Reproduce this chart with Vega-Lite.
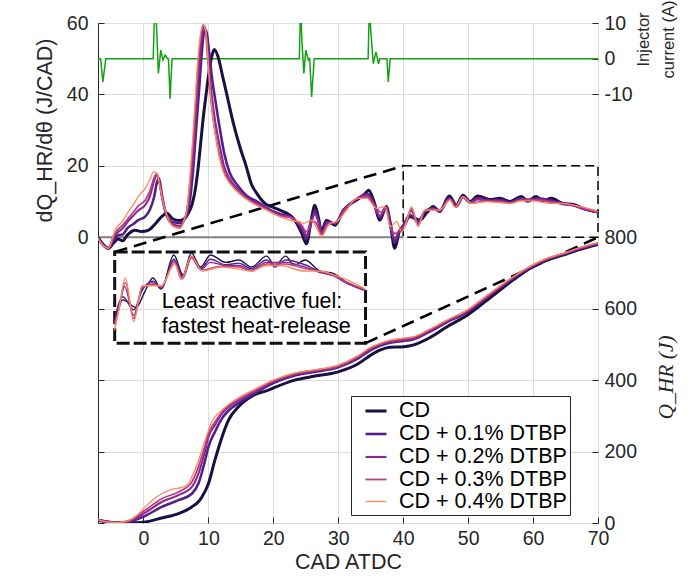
{
"$schema":"https://vega.github.io/schema/vega-lite/v6.json",
"width":500,"height":500,
"autosize":{"type":"none"},
"padding":{"left":98,"top":23,"right":95,"bottom":58},
"background":"white",
"config":{
 "font":"Liberation Sans",
 "view":{"stroke":"#262626","strokeWidth":1},
 "axis":{"domainColor":"#262626","tickColor":"#262626","labelColor":"#262626","titleColor":"#262626","labelFontSize":19.5,"titleFontSize":21.5,"titleFontWeight":"normal","gridColor":"#dcdcdc","gridWidth":1,"labelFont":"Liberation Sans","titleFont":"Liberation Sans"}
},
"datasets":{
"dq":[
{"s":"CD","cad":-7,"dq":0},{"s":"CD","cad":-6.2,"dq":-2.0},{"s":"CD","cad":-5.4,"dq":-3.1},{"s":"CD","cad":-4.6,"dq":-1.6},{"s":"CD","cad":-3.9,"dq":-0.5},{"s":"CD","cad":-3.2,"dq":-1.0},{"s":"CD","cad":-2.5,"dq":0.6},{"s":"CD","cad":-1.3,"dq":2.0},{"s":"CD","cad":-0.3,"dq":1.6},{"s":"CD","cad":0.8,"dq":2.0},{"s":"CD","cad":1.8,"dq":3.7},{"s":"CD","cad":2.8,"dq":5.8},{"s":"CD","cad":3.6,"dq":6.7},{"s":"CD","cad":4.5,"dq":5.2},{"s":"CD","cad":5.5,"dq":4.7},{"s":"CD","cad":6.3,"dq":5.2},{"s":"CD","cad":6.9,"dq":6.7},{"s":"CD","cad":7.5,"dq":9.3},{"s":"CD","cad":7.95,"dq":13},{"s":"CD","cad":8.46,"dq":20},{"s":"CD","cad":8.9,"dq":28},{"s":"CD","cad":9.3,"dq":35},{"s":"CD","cad":9.65,"dq":40},{"s":"CD","cad":10.0,"dq":45},{"s":"CD","cad":10.5,"dq":50.5},{"s":"CD","cad":10.9,"dq":52.6},{"s":"CD","cad":11.5,"dq":50.5},{"s":"CD","cad":12.2,"dq":45},{"s":"CD","cad":12.8,"dq":40.3},{"s":"CD","cad":13.85,"dq":31.9},{"s":"CD","cad":14.9,"dq":25},{"s":"CD","cad":15.8,"dq":20},{"s":"CD","cad":16.6,"dq":15},{"s":"CD","cad":17.45,"dq":12.3},{"s":"CD","cad":18.7,"dq":9.5},{"s":"CD","cad":20.0,"dq":8.4},{"s":"CD","cad":21.0,"dq":7.6},{"s":"CD","cad":22.1,"dq":6.7},{"s":"CD","cad":23.0,"dq":5.5},{"s":"CD","cad":23.6,"dq":3.9},{"s":"CD","cad":24.4,"dq":1.0},{"s":"CD","cad":25.1,"dq":-1.8},{"s":"CD","cad":25.8,"dq":4.5},{"s":"CD","cad":26.4,"dq":9.0},{"s":"CD","cad":27.0,"dq":5.0},{"s":"CD","cad":27.4,"dq":1.6},{"s":"CD","cad":28.2,"dq":4.8},{"s":"CD","cad":29.5,"dq":3.4},{"s":"CD","cad":30.8,"dq":7.6},{"s":"CD","cad":32.0,"dq":9.5},{"s":"CD","cad":32.8,"dq":10.4},{"s":"CD","cad":34.0,"dq":12.0},{"s":"CD","cad":34.7,"dq":13.2},{"s":"CD","cad":35.5,"dq":10.0},{"s":"CD","cad":36.4,"dq":4.8},{"s":"CD","cad":37.4,"dq":8.6},{"s":"CD","cad":38.0,"dq":4.0},{"s":"CD","cad":38.7,"dq":-3.1},{"s":"CD","cad":39.4,"dq":1.6},{"s":"CD","cad":40.0,"dq":2.8},{"s":"CD","cad":41.0,"dq":5.8},{"s":"CD","cad":42.6,"dq":4.8},{"s":"CD","cad":43.6,"dq":6.8},{"s":"CD","cad":44.6,"dq":8.6},{"s":"CD","cad":45.6,"dq":7.2},{"s":"CD","cad":47.1,"dq":11.55},{"s":"CD","cad":48.2,"dq":9.0},{"s":"CD","cad":49.2,"dq":11.8},{"s":"CD","cad":50.3,"dq":10.0},{"s":"CD","cad":51.5,"dq":11.55},{"s":"CD","cad":53.3,"dq":10.6},{"s":"CD","cad":54.9,"dq":10.9},{"s":"CD","cad":56.4,"dq":10.0},{"s":"CD","cad":58.2,"dq":11.4},{"s":"CD","cad":59.2,"dq":10.2},{"s":"CD","cad":60.5,"dq":11.4},{"s":"CD","cad":61.5,"dq":10.2},{"s":"CD","cad":62.8,"dq":10.9},{"s":"CD","cad":64.6,"dq":9.5},{"s":"CD","cad":66.2,"dq":9.2},{"s":"CD","cad":67.7,"dq":8.1},{"s":"CD","cad":70,"dq":7.1},
{"s":"CD + 0.1% DTBP","cad":-7,"dq":-0.1},{"s":"CD + 0.1% DTBP","cad":-6.2,"dq":-2.2},{"s":"CD + 0.1% DTBP","cad":-5.4,"dq":-3.1},{"s":"CD + 0.1% DTBP","cad":-4.6,"dq":-0.8},{"s":"CD + 0.1% DTBP","cad":-3.9,"dq":0.6},{"s":"CD + 0.1% DTBP","cad":-3.2,"dq":0.8},{"s":"CD + 0.1% DTBP","cad":-2.5,"dq":2.5},{"s":"CD + 0.1% DTBP","cad":-1.5,"dq":3.8},{"s":"CD + 0.1% DTBP","cad":-0.8,"dq":4.8},{"s":"CD + 0.1% DTBP","cad":0.26,"dq":5.8},{"s":"CD + 0.1% DTBP","cad":1.0,"dq":7.8},{"s":"CD + 0.1% DTBP","cad":1.6,"dq":11},{"s":"CD + 0.1% DTBP","cad":2.1,"dq":15.5},{"s":"CD + 0.1% DTBP","cad":2.4,"dq":16.5},{"s":"CD + 0.1% DTBP","cad":2.83,"dq":12},{"s":"CD + 0.1% DTBP","cad":3.6,"dq":6.0},{"s":"CD + 0.1% DTBP","cad":4.6,"dq":4.2},{"s":"CD + 0.1% DTBP","cad":5.65,"dq":4.0},{"s":"CD + 0.1% DTBP","cad":6.2,"dq":4.8},{"s":"CD + 0.1% DTBP","cad":6.7,"dq":6.5},{"s":"CD + 0.1% DTBP","cad":7.2,"dq":11},{"s":"CD + 0.1% DTBP","cad":7.7,"dq":20},{"s":"CD + 0.1% DTBP","cad":8.1,"dq":30},{"s":"CD + 0.1% DTBP","cad":8.6,"dq":42},{"s":"CD + 0.1% DTBP","cad":9.0,"dq":52},{"s":"CD + 0.1% DTBP","cad":9.4,"dq":58},{"s":"CD + 0.1% DTBP","cad":9.7,"dq":57.5},{"s":"CD + 0.1% DTBP","cad":10.1,"dq":52},{"s":"CD + 0.1% DTBP","cad":10.6,"dq":44},{"s":"CD + 0.1% DTBP","cad":11.1,"dq":38},{"s":"CD + 0.1% DTBP","cad":11.8,"dq":30},{"s":"CD + 0.1% DTBP","cad":12.5,"dq":23},{"s":"CD + 0.1% DTBP","cad":13.3,"dq":18},{"s":"CD + 0.1% DTBP","cad":14.5,"dq":14.5},{"s":"CD + 0.1% DTBP","cad":16.0,"dq":11.5},{"s":"CD + 0.1% DTBP","cad":17.5,"dq":10.0},{"s":"CD + 0.1% DTBP","cad":19.0,"dq":8.2},{"s":"CD + 0.1% DTBP","cad":21.0,"dq":6.5},{"s":"CD + 0.1% DTBP","cad":22.6,"dq":5.8},{"s":"CD + 0.1% DTBP","cad":23.6,"dq":4.2},{"s":"CD + 0.1% DTBP","cad":24.4,"dq":2.0},{"s":"CD + 0.1% DTBP","cad":25.1,"dq":-0.5},{"s":"CD + 0.1% DTBP","cad":25.8,"dq":4.0},{"s":"CD + 0.1% DTBP","cad":26.4,"dq":7.5},{"s":"CD + 0.1% DTBP","cad":27.0,"dq":4.5},{"s":"CD + 0.1% DTBP","cad":27.5,"dq":1.5},{"s":"CD + 0.1% DTBP","cad":28.3,"dq":4.5},{"s":"CD + 0.1% DTBP","cad":29.5,"dq":3.8},{"s":"CD + 0.1% DTBP","cad":30.8,"dq":7.4},{"s":"CD + 0.1% DTBP","cad":32.8,"dq":10.6},{"s":"CD + 0.1% DTBP","cad":34.5,"dq":12.2},{"s":"CD + 0.1% DTBP","cad":35.5,"dq":9.5},{"s":"CD + 0.1% DTBP","cad":36.4,"dq":5.5},{"s":"CD + 0.1% DTBP","cad":37.4,"dq":8.4},{"s":"CD + 0.1% DTBP","cad":38.0,"dq":4.0},{"s":"CD + 0.1% DTBP","cad":38.7,"dq":-1.5},{"s":"CD + 0.1% DTBP","cad":39.4,"dq":1.8},{"s":"CD + 0.1% DTBP","cad":40.0,"dq":3.3},{"s":"CD + 0.1% DTBP","cad":41.0,"dq":6.2},{"s":"CD + 0.1% DTBP","cad":42.3,"dq":4.5},{"s":"CD + 0.1% DTBP","cad":43.3,"dq":7.0},{"s":"CD + 0.1% DTBP","cad":44.6,"dq":8.2},{"s":"CD + 0.1% DTBP","cad":45.6,"dq":7.2},{"s":"CD + 0.1% DTBP","cad":47.1,"dq":11.0},{"s":"CD + 0.1% DTBP","cad":48.2,"dq":8.8},{"s":"CD + 0.1% DTBP","cad":49.2,"dq":11.4},{"s":"CD + 0.1% DTBP","cad":50.3,"dq":9.8},{"s":"CD + 0.1% DTBP","cad":51.5,"dq":11.0},{"s":"CD + 0.1% DTBP","cad":53.3,"dq":10.3},{"s":"CD + 0.1% DTBP","cad":54.9,"dq":10.5},{"s":"CD + 0.1% DTBP","cad":56.4,"dq":9.8},{"s":"CD + 0.1% DTBP","cad":58.2,"dq":10.9},{"s":"CD + 0.1% DTBP","cad":59.2,"dq":10.0},{"s":"CD + 0.1% DTBP","cad":60.5,"dq":10.9},{"s":"CD + 0.1% DTBP","cad":62.8,"dq":10.3},{"s":"CD + 0.1% DTBP","cad":64.6,"dq":9.4},{"s":"CD + 0.1% DTBP","cad":66.2,"dq":9.0},{"s":"CD + 0.1% DTBP","cad":67.7,"dq":8.0},{"s":"CD + 0.1% DTBP","cad":70,"dq":7.0},
{"s":"CD + 0.2% DTBP","cad":-7,"dq":-0.2},{"s":"CD + 0.2% DTBP","cad":-6.2,"dq":-2.3},{"s":"CD + 0.2% DTBP","cad":-5.4,"dq":-3.1},{"s":"CD + 0.2% DTBP","cad":-4.6,"dq":0},{"s":"CD + 0.2% DTBP","cad":-3.9,"dq":1.5},{"s":"CD + 0.2% DTBP","cad":-3.2,"dq":2.5},{"s":"CD + 0.2% DTBP","cad":-2.5,"dq":4.2},{"s":"CD + 0.2% DTBP","cad":-1.5,"dq":6.2},{"s":"CD + 0.2% DTBP","cad":-0.8,"dq":7.5},{"s":"CD + 0.2% DTBP","cad":0.26,"dq":9.0},{"s":"CD + 0.2% DTBP","cad":1.0,"dq":11.5},{"s":"CD + 0.2% DTBP","cad":1.6,"dq":15.5},{"s":"CD + 0.2% DTBP","cad":2.1,"dq":17.5},{"s":"CD + 0.2% DTBP","cad":2.5,"dq":15},{"s":"CD + 0.2% DTBP","cad":2.83,"dq":11.4},{"s":"CD + 0.2% DTBP","cad":3.6,"dq":6.0},{"s":"CD + 0.2% DTBP","cad":4.6,"dq":3.6},{"s":"CD + 0.2% DTBP","cad":5.65,"dq":3.2},{"s":"CD + 0.2% DTBP","cad":6.2,"dq":4.5},{"s":"CD + 0.2% DTBP","cad":6.7,"dq":7.2},{"s":"CD + 0.2% DTBP","cad":7.2,"dq":14},{"s":"CD + 0.2% DTBP","cad":7.6,"dq":22},{"s":"CD + 0.2% DTBP","cad":8.0,"dq":33},{"s":"CD + 0.2% DTBP","cad":8.5,"dq":46},{"s":"CD + 0.2% DTBP","cad":8.9,"dq":55},{"s":"CD + 0.2% DTBP","cad":9.3,"dq":59},{"s":"CD + 0.2% DTBP","cad":9.6,"dq":58},{"s":"CD + 0.2% DTBP","cad":10.0,"dq":50},{"s":"CD + 0.2% DTBP","cad":10.5,"dq":40},{"s":"CD + 0.2% DTBP","cad":11.0,"dq":33},{"s":"CD + 0.2% DTBP","cad":11.7,"dq":26},{"s":"CD + 0.2% DTBP","cad":12.4,"dq":20},{"s":"CD + 0.2% DTBP","cad":13.2,"dq":16.5},{"s":"CD + 0.2% DTBP","cad":14.5,"dq":13.5},{"s":"CD + 0.2% DTBP","cad":16.0,"dq":11},{"s":"CD + 0.2% DTBP","cad":17.5,"dq":9.5},{"s":"CD + 0.2% DTBP","cad":19.0,"dq":8.0},{"s":"CD + 0.2% DTBP","cad":21.0,"dq":6.2},{"s":"CD + 0.2% DTBP","cad":22.6,"dq":5.6},{"s":"CD + 0.2% DTBP","cad":23.6,"dq":4.3},{"s":"CD + 0.2% DTBP","cad":24.4,"dq":3.0},{"s":"CD + 0.2% DTBP","cad":25.1,"dq":0.5},{"s":"CD + 0.2% DTBP","cad":25.8,"dq":4.2},{"s":"CD + 0.2% DTBP","cad":26.4,"dq":6.5},{"s":"CD + 0.2% DTBP","cad":27.0,"dq":4.0},{"s":"CD + 0.2% DTBP","cad":27.5,"dq":1.0},{"s":"CD + 0.2% DTBP","cad":28.3,"dq":4.0},{"s":"CD + 0.2% DTBP","cad":29.5,"dq":4.0},{"s":"CD + 0.2% DTBP","cad":30.8,"dq":7.5},{"s":"CD + 0.2% DTBP","cad":32.8,"dq":10.7},{"s":"CD + 0.2% DTBP","cad":34.5,"dq":11.8},{"s":"CD + 0.2% DTBP","cad":35.5,"dq":9.0},{"s":"CD + 0.2% DTBP","cad":36.4,"dq":6.0},{"s":"CD + 0.2% DTBP","cad":37.4,"dq":8.5},{"s":"CD + 0.2% DTBP","cad":38.0,"dq":3.5},{"s":"CD + 0.2% DTBP","cad":38.7,"dq":-0.5},{"s":"CD + 0.2% DTBP","cad":39.4,"dq":1.8},{"s":"CD + 0.2% DTBP","cad":40.0,"dq":2.8},{"s":"CD + 0.2% DTBP","cad":40.5,"dq":4.5},{"s":"CD + 0.2% DTBP","cad":41.2,"dq":7.5},{"s":"CD + 0.2% DTBP","cad":42.3,"dq":3.8},{"s":"CD + 0.2% DTBP","cad":43.3,"dq":7.3},{"s":"CD + 0.2% DTBP","cad":44.6,"dq":8.0},{"s":"CD + 0.2% DTBP","cad":45.6,"dq":7.4},{"s":"CD + 0.2% DTBP","cad":47.1,"dq":10.8},{"s":"CD + 0.2% DTBP","cad":48.2,"dq":8.6},{"s":"CD + 0.2% DTBP","cad":49.2,"dq":11.2},{"s":"CD + 0.2% DTBP","cad":50.3,"dq":9.7},{"s":"CD + 0.2% DTBP","cad":51.5,"dq":10.6},{"s":"CD + 0.2% DTBP","cad":53.3,"dq":10.2},{"s":"CD + 0.2% DTBP","cad":54.9,"dq":10.2},{"s":"CD + 0.2% DTBP","cad":56.4,"dq":9.6},{"s":"CD + 0.2% DTBP","cad":58.2,"dq":10.6},{"s":"CD + 0.2% DTBP","cad":60.5,"dq":10.6},{"s":"CD + 0.2% DTBP","cad":62.8,"dq":10.0},{"s":"CD + 0.2% DTBP","cad":64.6,"dq":9.3},{"s":"CD + 0.2% DTBP","cad":66.2,"dq":8.9},{"s":"CD + 0.2% DTBP","cad":67.7,"dq":8.0},{"s":"CD + 0.2% DTBP","cad":70,"dq":7.0},
{"s":"CD + 0.3% DTBP","cad":-7,"dq":-0.2},{"s":"CD + 0.3% DTBP","cad":-6.2,"dq":-2.3},{"s":"CD + 0.3% DTBP","cad":-5.4,"dq":-3.1},{"s":"CD + 0.3% DTBP","cad":-4.6,"dq":0.5},{"s":"CD + 0.3% DTBP","cad":-3.9,"dq":2.2},{"s":"CD + 0.3% DTBP","cad":-3.2,"dq":3.4},{"s":"CD + 0.3% DTBP","cad":-2.5,"dq":5.0},{"s":"CD + 0.3% DTBP","cad":-1.5,"dq":7.2},{"s":"CD + 0.3% DTBP","cad":-0.8,"dq":8.8},{"s":"CD + 0.3% DTBP","cad":0.26,"dq":10.4},{"s":"CD + 0.3% DTBP","cad":1.0,"dq":13},{"s":"CD + 0.3% DTBP","cad":1.6,"dq":16.5},{"s":"CD + 0.3% DTBP","cad":2.06,"dq":17.8},{"s":"CD + 0.3% DTBP","cad":2.5,"dq":14.8},{"s":"CD + 0.3% DTBP","cad":2.83,"dq":11.4},{"s":"CD + 0.3% DTBP","cad":3.6,"dq":6.0},{"s":"CD + 0.3% DTBP","cad":4.6,"dq":3.3},{"s":"CD + 0.3% DTBP","cad":5.65,"dq":2.8},{"s":"CD + 0.3% DTBP","cad":6.2,"dq":4.5},{"s":"CD + 0.3% DTBP","cad":6.7,"dq":7.6},{"s":"CD + 0.3% DTBP","cad":7.2,"dq":16},{"s":"CD + 0.3% DTBP","cad":7.6,"dq":25},{"s":"CD + 0.3% DTBP","cad":8.0,"dq":36},{"s":"CD + 0.3% DTBP","cad":8.4,"dq":48},{"s":"CD + 0.3% DTBP","cad":8.8,"dq":56},{"s":"CD + 0.3% DTBP","cad":9.2,"dq":59.5},{"s":"CD + 0.3% DTBP","cad":9.5,"dq":58.5},{"s":"CD + 0.3% DTBP","cad":9.9,"dq":50},{"s":"CD + 0.3% DTBP","cad":10.3,"dq":40},{"s":"CD + 0.3% DTBP","cad":10.9,"dq":31},{"s":"CD + 0.3% DTBP","cad":11.6,"dq":24},{"s":"CD + 0.3% DTBP","cad":12.3,"dq":19},{"s":"CD + 0.3% DTBP","cad":13.2,"dq":15.8},{"s":"CD + 0.3% DTBP","cad":14.8,"dq":12.5},{"s":"CD + 0.3% DTBP","cad":16.5,"dq":10},{"s":"CD + 0.3% DTBP","cad":18.5,"dq":8.2},{"s":"CD + 0.3% DTBP","cad":21.0,"dq":6.0},{"s":"CD + 0.3% DTBP","cad":22.6,"dq":5.6},{"s":"CD + 0.3% DTBP","cad":23.6,"dq":4.5},{"s":"CD + 0.3% DTBP","cad":24.4,"dq":3.2},{"s":"CD + 0.3% DTBP","cad":25.1,"dq":1.5},{"s":"CD + 0.3% DTBP","cad":25.9,"dq":4.6},{"s":"CD + 0.3% DTBP","cad":26.6,"dq":4.0},{"s":"CD + 0.3% DTBP","cad":27.4,"dq":0.8},{"s":"CD + 0.3% DTBP","cad":28.3,"dq":3.5},{"s":"CD + 0.3% DTBP","cad":29.6,"dq":4.2},{"s":"CD + 0.3% DTBP","cad":31.0,"dq":7.6},{"s":"CD + 0.3% DTBP","cad":32.8,"dq":10.8},{"s":"CD + 0.3% DTBP","cad":34.4,"dq":11.3},{"s":"CD + 0.3% DTBP","cad":35.7,"dq":8.6},{"s":"CD + 0.3% DTBP","cad":36.6,"dq":7.0},{"s":"CD + 0.3% DTBP","cad":37.3,"dq":8.5},{"s":"CD + 0.3% DTBP","cad":38.0,"dq":3.2},{"s":"CD + 0.3% DTBP","cad":38.8,"dq":1.0},{"s":"CD + 0.3% DTBP","cad":39.5,"dq":2.0},{"s":"CD + 0.3% DTBP","cad":40.0,"dq":2.6},{"s":"CD + 0.3% DTBP","cad":40.5,"dq":4.5},{"s":"CD + 0.3% DTBP","cad":41.3,"dq":8.0},{"s":"CD + 0.3% DTBP","cad":42.3,"dq":3.4},{"s":"CD + 0.3% DTBP","cad":43.3,"dq":7.4},{"s":"CD + 0.3% DTBP","cad":44.6,"dq":7.8},{"s":"CD + 0.3% DTBP","cad":45.6,"dq":7.5},{"s":"CD + 0.3% DTBP","cad":47.2,"dq":10.6},{"s":"CD + 0.3% DTBP","cad":48.1,"dq":8.5},{"s":"CD + 0.3% DTBP","cad":49.2,"dq":11.3},{"s":"CD + 0.3% DTBP","cad":50.4,"dq":9.6},{"s":"CD + 0.3% DTBP","cad":52.8,"dq":10.1},{"s":"CD + 0.3% DTBP","cad":54.9,"dq":10.0},{"s":"CD + 0.3% DTBP","cad":56.4,"dq":9.5},{"s":"CD + 0.3% DTBP","cad":58.2,"dq":10.4},{"s":"CD + 0.3% DTBP","cad":60.5,"dq":10.4},{"s":"CD + 0.3% DTBP","cad":62.8,"dq":9.8},{"s":"CD + 0.3% DTBP","cad":64.6,"dq":9.4},{"s":"CD + 0.3% DTBP","cad":66.2,"dq":8.9},{"s":"CD + 0.3% DTBP","cad":67.7,"dq":8.1},{"s":"CD + 0.3% DTBP","cad":70,"dq":7.1},
{"s":"CD + 0.4% DTBP","cad":-7,"dq":-0.3},{"s":"CD + 0.4% DTBP","cad":-6.2,"dq":-2.3},{"s":"CD + 0.4% DTBP","cad":-5.4,"dq":-3.1},{"s":"CD + 0.4% DTBP","cad":-4.8,"dq":-0.5},{"s":"CD + 0.4% DTBP","cad":-4.35,"dq":2.0},{"s":"CD + 0.4% DTBP","cad":-3.3,"dq":4.4},{"s":"CD + 0.4% DTBP","cad":-2.3,"dq":7.2},{"s":"CD + 0.4% DTBP","cad":-1.5,"dq":9.3},{"s":"CD + 0.4% DTBP","cad":-0.8,"dq":11.4},{"s":"CD + 0.4% DTBP","cad":0.26,"dq":13.7},{"s":"CD + 0.4% DTBP","cad":1.0,"dq":16.2},{"s":"CD + 0.4% DTBP","cad":1.55,"dq":18.3},{"s":"CD + 0.4% DTBP","cad":2.06,"dq":17.9},{"s":"CD + 0.4% DTBP","cad":2.5,"dq":14.5},{"s":"CD + 0.4% DTBP","cad":2.83,"dq":11.4},{"s":"CD + 0.4% DTBP","cad":3.6,"dq":6.2},{"s":"CD + 0.4% DTBP","cad":4.6,"dq":3.0},{"s":"CD + 0.4% DTBP","cad":5.65,"dq":2.5},{"s":"CD + 0.4% DTBP","cad":6.2,"dq":4.5},{"s":"CD + 0.4% DTBP","cad":6.7,"dq":8.0},{"s":"CD + 0.4% DTBP","cad":7.2,"dq":18},{"s":"CD + 0.4% DTBP","cad":7.6,"dq":28},{"s":"CD + 0.4% DTBP","cad":7.95,"dq":38},{"s":"CD + 0.4% DTBP","cad":8.4,"dq":50},{"s":"CD + 0.4% DTBP","cad":8.8,"dq":57},{"s":"CD + 0.4% DTBP","cad":9.1,"dq":59.4},{"s":"CD + 0.4% DTBP","cad":9.4,"dq":59},{"s":"CD + 0.4% DTBP","cad":9.75,"dq":55},{"s":"CD + 0.4% DTBP","cad":10.1,"dq":45},{"s":"CD + 0.4% DTBP","cad":10.6,"dq":35},{"s":"CD + 0.4% DTBP","cad":11.3,"dq":26},{"s":"CD + 0.4% DTBP","cad":12.0,"dq":20},{"s":"CD + 0.4% DTBP","cad":12.6,"dq":17},{"s":"CD + 0.4% DTBP","cad":13.3,"dq":15},{"s":"CD + 0.4% DTBP","cad":14.9,"dq":12},{"s":"CD + 0.4% DTBP","cad":16.9,"dq":9.5},{"s":"CD + 0.4% DTBP","cad":19.0,"dq":7.6},{"s":"CD + 0.4% DTBP","cad":21.0,"dq":5.8},{"s":"CD + 0.4% DTBP","cad":23.1,"dq":4.6},{"s":"CD + 0.4% DTBP","cad":24.1,"dq":4.4},{"s":"CD + 0.4% DTBP","cad":24.6,"dq":3.9},{"s":"CD + 0.4% DTBP","cad":25.9,"dq":4.8},{"s":"CD + 0.4% DTBP","cad":26.7,"dq":2.5},{"s":"CD + 0.4% DTBP","cad":27.45,"dq":0.2},{"s":"CD + 0.4% DTBP","cad":28.2,"dq":2.5},{"s":"CD + 0.4% DTBP","cad":28.7,"dq":3.9},{"s":"CD + 0.4% DTBP","cad":29.75,"dq":4.4},{"s":"CD + 0.4% DTBP","cad":31.3,"dq":7.6},{"s":"CD + 0.4% DTBP","cad":32.8,"dq":10.9},{"s":"CD + 0.4% DTBP","cad":34.4,"dq":10.9},{"s":"CD + 0.4% DTBP","cad":35.9,"dq":8.1},{"s":"CD + 0.4% DTBP","cad":37.2,"dq":8.6},{"s":"CD + 0.4% DTBP","cad":38.0,"dq":3.0},{"s":"CD + 0.4% DTBP","cad":39.0,"dq":4.4},{"s":"CD + 0.4% DTBP","cad":39.75,"dq":1.6},{"s":"CD + 0.4% DTBP","cad":40.0,"dq":1.9},{"s":"CD + 0.4% DTBP","cad":40.5,"dq":4.5},{"s":"CD + 0.4% DTBP","cad":41.3,"dq":8.6},{"s":"CD + 0.4% DTBP","cad":42.3,"dq":3.0},{"s":"CD + 0.4% DTBP","cad":43.3,"dq":7.6},{"s":"CD + 0.4% DTBP","cad":45.6,"dq":7.6},{"s":"CD + 0.4% DTBP","cad":47.2,"dq":10.4},{"s":"CD + 0.4% DTBP","cad":48.0,"dq":8.4},{"s":"CD + 0.4% DTBP","cad":49.2,"dq":11.4},{"s":"CD + 0.4% DTBP","cad":50.5,"dq":9.5},{"s":"CD + 0.4% DTBP","cad":52.8,"dq":10.0},{"s":"CD + 0.4% DTBP","cad":54.5,"dq":9.8},{"s":"CD + 0.4% DTBP","cad":56.4,"dq":9.5},{"s":"CD + 0.4% DTBP","cad":58.2,"dq":10.2},{"s":"CD + 0.4% DTBP","cad":60.0,"dq":10.2},{"s":"CD + 0.4% DTBP","cad":62.6,"dq":9.5},{"s":"CD + 0.4% DTBP","cad":64.6,"dq":9.5},{"s":"CD + 0.4% DTBP","cad":66.2,"dq":9.0},{"s":"CD + 0.4% DTBP","cad":68,"dq":8.3},{"s":"CD + 0.4% DTBP","cad":70,"dq":7.2}
],
"q":[
{"s":"CD","cad":-7,"q":8},{"s":"CD","cad":-5.5,"q":3},{"s":"CD","cad":-4,"q":1},{"s":"CD","cad":-2,"q":0.5},{"s":"CD","cad":0.26,"q":3},{"s":"CD","cad":2.8,"q":14},{"s":"CD","cad":5.4,"q":26},{"s":"CD","cad":7.45,"q":45},{"s":"CD","cad":8.5,"q":60},{"s":"CD","cad":9.0,"q":73},{"s":"CD","cad":10.0,"q":110},{"s":"CD","cad":11.0,"q":176},{"s":"CD","cad":12.1,"q":241},{"s":"CD","cad":13.1,"q":288},{"s":"CD","cad":14.6,"q":325},{"s":"CD","cad":16.7,"q":355},{"s":"CD","cad":19.2,"q":372},{"s":"CD","cad":20,"q":378},{"s":"CD","cad":23.3,"q":400},{"s":"CD","cad":26,"q":410},{"s":"CD","cad":30,"q":423},{"s":"CD","cad":33,"q":445},{"s":"CD","cad":35,"q":470},{"s":"CD","cad":36.4,"q":484},{"s":"CD","cad":38,"q":492},{"s":"CD","cad":39.75,"q":493},{"s":"CD","cad":41.5,"q":498},{"s":"CD","cad":44,"q":518},{"s":"CD","cad":46.7,"q":549},{"s":"CD","cad":49.85,"q":582},{"s":"CD","cad":53,"q":625},{"s":"CD","cad":56.9,"q":680},{"s":"CD","cad":59.9,"q":717},{"s":"CD","cad":62,"q":735},{"s":"CD","cad":64.6,"q":750},{"s":"CD","cad":67,"q":765},{"s":"CD","cad":70,"q":780},
{"s":"CD + 0.1% DTBP","cad":-7,"q":8.5},{"s":"CD + 0.1% DTBP","cad":-5.5,"q":3},{"s":"CD + 0.1% DTBP","cad":-4,"q":1},{"s":"CD + 0.1% DTBP","cad":-2.3,"q":3},{"s":"CD + 0.1% DTBP","cad":0.26,"q":20},{"s":"CD + 0.1% DTBP","cad":2.8,"q":45},{"s":"CD + 0.1% DTBP","cad":5.4,"q":64},{"s":"CD + 0.1% DTBP","cad":7.45,"q":82},{"s":"CD + 0.1% DTBP","cad":8.5,"q":112},{"s":"CD + 0.1% DTBP","cad":9.5,"q":176},{"s":"CD + 0.1% DTBP","cad":10.0,"q":213},{"s":"CD + 0.1% DTBP","cad":11.0,"q":255},{"s":"CD + 0.1% DTBP","cad":12.1,"q":293},{"s":"CD + 0.1% DTBP","cad":13.1,"q":315},{"s":"CD + 0.1% DTBP","cad":14.6,"q":335},{"s":"CD + 0.1% DTBP","cad":17.2,"q":364},{"s":"CD + 0.1% DTBP","cad":20,"q":392},{"s":"CD + 0.1% DTBP","cad":23.3,"q":413},{"s":"CD + 0.1% DTBP","cad":26,"q":422},{"s":"CD + 0.1% DTBP","cad":30,"q":436},{"s":"CD + 0.1% DTBP","cad":33,"q":460},{"s":"CD + 0.1% DTBP","cad":35,"q":484},{"s":"CD + 0.1% DTBP","cad":36.4,"q":496},{"s":"CD + 0.1% DTBP","cad":38,"q":505},{"s":"CD + 0.1% DTBP","cad":39.75,"q":509},{"s":"CD + 0.1% DTBP","cad":41.5,"q":514},{"s":"CD + 0.1% DTBP","cad":44,"q":535},{"s":"CD + 0.1% DTBP","cad":46.7,"q":562},{"s":"CD + 0.1% DTBP","cad":49.85,"q":590},{"s":"CD + 0.1% DTBP","cad":53,"q":633},{"s":"CD + 0.1% DTBP","cad":56.9,"q":685},{"s":"CD + 0.1% DTBP","cad":59.9,"q":719},{"s":"CD + 0.1% DTBP","cad":62,"q":737},{"s":"CD + 0.1% DTBP","cad":64.6,"q":752},{"s":"CD + 0.1% DTBP","cad":67,"q":767},{"s":"CD + 0.1% DTBP","cad":70,"q":782},
{"s":"CD + 0.2% DTBP","cad":-7,"q":9},{"s":"CD + 0.2% DTBP","cad":-5.5,"q":3},{"s":"CD + 0.2% DTBP","cad":-4,"q":1.2},{"s":"CD + 0.2% DTBP","cad":-2.3,"q":4.5},{"s":"CD + 0.2% DTBP","cad":0.26,"q":29},{"s":"CD + 0.2% DTBP","cad":2.8,"q":59},{"s":"CD + 0.2% DTBP","cad":5.4,"q":78},{"s":"CD + 0.2% DTBP","cad":7.45,"q":101},{"s":"CD + 0.2% DTBP","cad":8.5,"q":140},{"s":"CD + 0.2% DTBP","cad":9.5,"q":204},{"s":"CD + 0.2% DTBP","cad":10.0,"q":241},{"s":"CD + 0.2% DTBP","cad":11.0,"q":274},{"s":"CD + 0.2% DTBP","cad":12.1,"q":307},{"s":"CD + 0.2% DTBP","cad":13.1,"q":325},{"s":"CD + 0.2% DTBP","cad":14.6,"q":342},{"s":"CD + 0.2% DTBP","cad":17.2,"q":369},{"s":"CD + 0.2% DTBP","cad":20,"q":396},{"s":"CD + 0.2% DTBP","cad":23.3,"q":416},{"s":"CD + 0.2% DTBP","cad":26,"q":425},{"s":"CD + 0.2% DTBP","cad":30,"q":438},{"s":"CD + 0.2% DTBP","cad":33,"q":463},{"s":"CD + 0.2% DTBP","cad":35,"q":487},{"s":"CD + 0.2% DTBP","cad":36.4,"q":499},{"s":"CD + 0.2% DTBP","cad":38,"q":508},{"s":"CD + 0.2% DTBP","cad":39.75,"q":512},{"s":"CD + 0.2% DTBP","cad":41.5,"q":517},{"s":"CD + 0.2% DTBP","cad":44,"q":538},{"s":"CD + 0.2% DTBP","cad":46.7,"q":565},{"s":"CD + 0.2% DTBP","cad":49.85,"q":593},{"s":"CD + 0.2% DTBP","cad":53,"q":635},{"s":"CD + 0.2% DTBP","cad":56.9,"q":687},{"s":"CD + 0.2% DTBP","cad":59.9,"q":720},{"s":"CD + 0.2% DTBP","cad":62,"q":738},{"s":"CD + 0.2% DTBP","cad":64.6,"q":753},{"s":"CD + 0.2% DTBP","cad":67,"q":768},{"s":"CD + 0.2% DTBP","cad":70,"q":783},
{"s":"CD + 0.3% DTBP","cad":-7,"q":9},{"s":"CD + 0.3% DTBP","cad":-5.5,"q":3},{"s":"CD + 0.3% DTBP","cad":-4,"q":1.3},{"s":"CD + 0.3% DTBP","cad":-2.3,"q":6},{"s":"CD + 0.3% DTBP","cad":0.26,"q":36},{"s":"CD + 0.3% DTBP","cad":2.8,"q":68},{"s":"CD + 0.3% DTBP","cad":5.4,"q":87},{"s":"CD + 0.3% DTBP","cad":7.45,"q":115},{"s":"CD + 0.3% DTBP","cad":8.5,"q":160},{"s":"CD + 0.3% DTBP","cad":9.5,"q":218},{"s":"CD + 0.3% DTBP","cad":10.0,"q":250},{"s":"CD + 0.3% DTBP","cad":11.0,"q":283},{"s":"CD + 0.3% DTBP","cad":12.1,"q":311},{"s":"CD + 0.3% DTBP","cad":13.1,"q":330},{"s":"CD + 0.3% DTBP","cad":14.6,"q":346},{"s":"CD + 0.3% DTBP","cad":17.2,"q":372},{"s":"CD + 0.3% DTBP","cad":20,"q":398},{"s":"CD + 0.3% DTBP","cad":23.3,"q":418},{"s":"CD + 0.3% DTBP","cad":26,"q":427},{"s":"CD + 0.3% DTBP","cad":30,"q":440},{"s":"CD + 0.3% DTBP","cad":33,"q":466},{"s":"CD + 0.3% DTBP","cad":35,"q":490},{"s":"CD + 0.3% DTBP","cad":36.4,"q":501},{"s":"CD + 0.3% DTBP","cad":38,"q":510},{"s":"CD + 0.3% DTBP","cad":39.75,"q":515},{"s":"CD + 0.3% DTBP","cad":41.5,"q":519},{"s":"CD + 0.3% DTBP","cad":44,"q":540},{"s":"CD + 0.3% DTBP","cad":46.7,"q":566},{"s":"CD + 0.3% DTBP","cad":49.85,"q":595},{"s":"CD + 0.3% DTBP","cad":53,"q":637},{"s":"CD + 0.3% DTBP","cad":56.9,"q":688},{"s":"CD + 0.3% DTBP","cad":59.9,"q":721},{"s":"CD + 0.3% DTBP","cad":62,"q":739},{"s":"CD + 0.3% DTBP","cad":64.6,"q":754},{"s":"CD + 0.3% DTBP","cad":67,"q":769},{"s":"CD + 0.3% DTBP","cad":70,"q":784},
{"s":"CD + 0.4% DTBP","cad":-7,"q":9},{"s":"CD + 0.4% DTBP","cad":-5.5,"q":3},{"s":"CD + 0.4% DTBP","cad":-4,"q":1.5},{"s":"CD + 0.4% DTBP","cad":-2.3,"q":7.6},{"s":"CD + 0.4% DTBP","cad":-1,"q":22},{"s":"CD + 0.4% DTBP","cad":0.26,"q":45},{"s":"CD + 0.4% DTBP","cad":1.5,"q":66},{"s":"CD + 0.4% DTBP","cad":2.8,"q":82},{"s":"CD + 0.4% DTBP","cad":4.4,"q":94},{"s":"CD + 0.4% DTBP","cad":6.15,"q":101},{"s":"CD + 0.4% DTBP","cad":7.0,"q":112},{"s":"CD + 0.4% DTBP","cad":7.45,"q":129},{"s":"CD + 0.4% DTBP","cad":8.0,"q":152},{"s":"CD + 0.4% DTBP","cad":8.5,"q":176},{"s":"CD + 0.4% DTBP","cad":9.5,"q":232},{"s":"CD + 0.4% DTBP","cad":10.5,"q":283},{"s":"CD + 0.4% DTBP","cad":12.1,"q":316},{"s":"CD + 0.4% DTBP","cad":14.1,"q":344},{"s":"CD + 0.4% DTBP","cad":17.2,"q":375},{"s":"CD + 0.4% DTBP","cad":20,"q":400},{"s":"CD + 0.4% DTBP","cad":23.3,"q":420},{"s":"CD + 0.4% DTBP","cad":26,"q":428},{"s":"CD + 0.4% DTBP","cad":30,"q":442},{"s":"CD + 0.4% DTBP","cad":33,"q":468},{"s":"CD + 0.4% DTBP","cad":35,"q":492},{"s":"CD + 0.4% DTBP","cad":36.4,"q":503},{"s":"CD + 0.4% DTBP","cad":38,"q":512},{"s":"CD + 0.4% DTBP","cad":39.75,"q":517},{"s":"CD + 0.4% DTBP","cad":41.5,"q":521},{"s":"CD + 0.4% DTBP","cad":44,"q":542},{"s":"CD + 0.4% DTBP","cad":46.7,"q":568},{"s":"CD + 0.4% DTBP","cad":49.85,"q":596},{"s":"CD + 0.4% DTBP","cad":53,"q":638},{"s":"CD + 0.4% DTBP","cad":56.9,"q":689},{"s":"CD + 0.4% DTBP","cad":59.9,"q":722},{"s":"CD + 0.4% DTBP","cad":62,"q":740},{"s":"CD + 0.4% DTBP","cad":64.6,"q":755},{"s":"CD + 0.4% DTBP","cad":67,"q":770},{"s":"CD + 0.4% DTBP","cad":70,"q":785}
],
"inj":[
{"cad":-7,"i":0},{"cad":-6.6,"i":0},{"cad":-6.25,"i":-6.5},{"cad":-5.8,"i":0},{"cad":1.5,"i":0},{"cad":1.75,"i":16},{"cad":1.95,"i":12},{"cad":2.3,"i":-4.1},{"cad":2.67,"i":2.4},{"cad":3.0,"i":-0.4},{"cad":3.34,"i":1.0},{"cad":3.7,"i":0},{"cad":3.85,"i":0},{"cad":4.1,"i":-11.2},{"cad":4.4,"i":0},{"cad":24.0,"i":0},{"cad":24.2,"i":16},{"cad":24.4,"i":5},{"cad":24.7,"i":-4.1},{"cad":25.0,"i":2.4},{"cad":25.4,"i":-0.4},{"cad":25.6,"i":0},{"cad":25.9,"i":-10.7},{"cad":26.3,"i":0},{"cad":34.6,"i":0},{"cad":34.8,"i":16},{"cad":35.0,"i":8},{"cad":35.4,"i":-1.4},{"cad":35.8,"i":1.9},{"cad":36.2,"i":-1.4},{"cad":36.4,"i":0},{"cad":37.5,"i":0},{"cad":37.7,"i":-6.5},{"cad":38.0,"i":0},{"cad":70,"i":0}
]
},
"layer":[
{
 "data":{"values":[{"cad":-7,"dq":0},{"cad":40,"dq":0}]},
 "mark":{"type":"line","color":"#808080","strokeWidth":2},
 "encoding":{
  "x":{"field":"cad","type":"quantitative","scale":{"domain":[-7,70],"nice":false,"zero":false},"axis":null},
  "y":{"field":"dq","type":"quantitative","scale":{"domain":[-80,60],"nice":false,"zero":false},"axis":null}
 }
},
{
 "data":{"values":[{"x1":40,"x2":70,"y1":0,"y2":20}]},
 "mark":{"type":"rect","fill":null,"fillOpacity":0,"stroke":"black","strokeWidth":1.5,"strokeDash":[9,5]},
 "encoding":{
  "x":{"field":"x1","type":"quantitative","scale":{"domain":[-7,70],"nice":false,"zero":false},"axis":null},
  "x2":{"field":"x2"},
  "y":{"field":"y1","type":"quantitative","scale":{"domain":[-80,60],"nice":false,"zero":false},"axis":null},
  "y2":{"field":"y2"}
 }
},
{
 "data":{"values":[{"x1":-4.43,"x2":34.2,"y1":-4.1,"y2":-29.65}]},
 "mark":{"type":"rect","fill":"white","fillOpacity":0,"stroke":"#111111","strokeWidth":3,"strokeDash":[13,4]},
 "encoding":{
  "x":{"field":"x1","type":"quantitative","scale":{"domain":[-7,70],"nice":false,"zero":false},"axis":null},
  "x2":{"field":"x2"},
  "y":{"field":"y1","type":"quantitative","scale":{"domain":[-80,60],"nice":false,"zero":false},"axis":null},
  "y2":{"field":"y2"}
 }
},
{
 "data":{"values":[{"g":1,"cad":-4.43,"dq":-4.1},{"g":1,"cad":40,"dq":20},{"g":2,"cad":34.2,"dq":-29.65},{"g":2,"cad":70,"dq":0}]},
 "mark":{"type":"line","color":"black","strokeWidth":2.6,"strokeDash":[13,7]},
 "encoding":{
  "x":{"field":"cad","type":"quantitative","scale":{"domain":[-7,70],"nice":false,"zero":false},"axis":null},
  "y":{"field":"dq","type":"quantitative","scale":{"domain":[-80,60],"nice":false,"zero":false},"axis":null},
  "detail":{"field":"g","type":"nominal"}
 }
},
{
 "data":{"name":"inj"},
 "mark":{"type":"line","color":"#14a014","strokeWidth":1.5,"clip":true},
 "encoding":{
  "x":{"field":"cad","type":"quantitative","scale":{"domain":[-7,70],"nice":false,"zero":false},"axis":null},
  "y":{"field":"i","type":"quantitative","scale":{"domain":[-130,10],"nice":false,"zero":false},
   "axis":{"orient":"right","values":[-10,0,10],"grid":false,"domain":false,"tickSize":-6,"labelPadding":12,"labelExpr":"datum.value < 0 ? '-' + abs(datum.value) : datum.label","title":["Injector","current (A)"],"titleFontSize":16.5,"titleAngle":-90,"titleX":37,"titleY":16,"titleAlign":"center","titleBaseline":"top","titleLineHeight":25}}
 }
},
{
 "data":{"name":"q"},
 "mark":{"type":"line","interpolate":"monotone","clip":true},
 "encoding":{
  "x":{"field":"cad","type":"quantitative","scale":{"domain":[-7,70],"nice":false,"zero":false},"axis":null},
  "y":{"field":"q","type":"quantitative","scale":{"domain":[0,1400],"nice":false,"zero":false},
   "axis":{"orient":"right","values":[0,200,400,600,800],"grid":false,"domain":false,"tickSize":-6,"labelPadding":12,"title":"Q_HR (J)","titleFont":"Liberation Serif","titleFontStyle":"italic","titleAngle":-90,"titleX":57,"titleY":354,"titleAlign":"center","titleBaseline":"top"}},
  "color":{"field":"s","type":"nominal","scale":{"domain":["CD","CD + 0.1% DTBP","CD + 0.2% DTBP","CD + 0.3% DTBP","CD + 0.4% DTBP"],"range":["#1a1042","#51208a","#8d2a91","#bb3a80","#fb8a5c"]}},
  "strokeWidth":{"field":"s","type":"nominal","scale":{"domain":["CD","CD + 0.1% DTBP","CD + 0.2% DTBP","CD + 0.3% DTBP","CD + 0.4% DTBP"],"range":[3,1.3,1.3,1.3,1.3]}}
 }
},
{
 "data":{"name":"dq"},
 "mark":{"type":"line","interpolate":"monotone","clip":true},
 "encoding":{
  "x":{"field":"cad","type":"quantitative","scale":{"domain":[-7,70],"nice":false,"zero":false},
   "axis":{"values":[0,10,20,30,40,50,60,70],"grid":true,"domain":false,"tickSize":-6,"labelPadding":12,"labelFlush":false,"title":"CAD ATDC","titlePadding":4}},
  "y":{"field":"dq","type":"quantitative","scale":{"domain":[-80,60],"nice":false,"zero":false},
   "axis":{"orient":"left","values":[-80,-60,-40,-20,0,20,40,60],"grid":true,"domain":false,"tickSize":-6,"labelPadding":16,"labelExpr":"datum.value >= 0 ? datum.label : ''","title":"dQ_HR/dθ (J/CAD)","titleAngle":-90,"titleX":-53,"titleY":107,"titleAlign":"center","titleBaseline":"middle"}},
  "color":{"field":"s","type":"nominal","scale":{"domain":["CD","CD + 0.1% DTBP","CD + 0.2% DTBP","CD + 0.3% DTBP","CD + 0.4% DTBP"],"range":["#1a1042","#51208a","#8d2a91","#bb3a80","#fb8a5c"]},
   "legend":{"title":null,"orient":"none","legendX":253,"legendY":373,"symbolType":"stroke","symbolSize":441,"labelFontSize":21.5,"labelFont":"Liberation Sans","labelColor":"black","strokeColor":"#262626","fillColor":"white","padding":3,"rowPadding":0,"labelOffset":11,"symbolOffset":10,"labelLimit":400}},
  "strokeWidth":{"field":"s","type":"nominal","scale":{"domain":["CD","CD + 0.1% DTBP","CD + 0.2% DTBP","CD + 0.3% DTBP","CD + 0.4% DTBP"],"range":[3,1.3,1.3,1.3,1.3]},
   "legend":{"title":null,"orient":"none","legendX":253,"legendY":373,"symbolType":"stroke","symbolSize":441,"labelFontSize":21.5,"labelFont":"Liberation Sans","labelColor":"black","strokeColor":"#262626","fillColor":"white","padding":3,"rowPadding":0,"labelOffset":11,"symbolOffset":10,"labelLimit":400}}
 }
},
{
 "data":{"name":"dq"},
 "transform":[{"filter":"datum.cad >= 40"}],
 "mark":{"type":"line","interpolate":"monotone","strokeWidth":1.4},
 "encoding":{
  "x":{"field":"cad","type":"quantitative","scale":{"domain":[38.02,97.9],"nice":false,"zero":false},"axis":null},
  "y":{"field":"dq","type":"quantitative","scale":{"domain":[-22.81,41.29],"nice":false,"zero":false},"axis":null},
  "color":{"field":"s","type":"nominal","scale":{"domain":["CD","CD + 0.1% DTBP","CD + 0.2% DTBP","CD + 0.3% DTBP","CD + 0.4% DTBP"],"range":["#1a1042","#51208a","#8d2a91","#bb3a80","#fb8a5c"]}}
 }
},
{
 "data":{"values":[{"cad":2.83,"dq":-19.9,"t":"Least reactive fuel:"},{"cad":2.83,"dq":-26.9,"t":"fastest heat-release"}]},
 "mark":{"type":"text","align":"left","baseline":"alphabetic","fontSize":21.5,"font":"Liberation Sans","color":"black"},
 "encoding":{
  "x":{"field":"cad","type":"quantitative","scale":{"domain":[-7,70],"nice":false,"zero":false},"axis":null},
  "y":{"field":"dq","type":"quantitative","scale":{"domain":[-80,60],"nice":false,"zero":false},"axis":null},
  "text":{"field":"t"}
 }
}
],
"resolve":{"scale":{"x":"independent","y":"independent"}}
}
